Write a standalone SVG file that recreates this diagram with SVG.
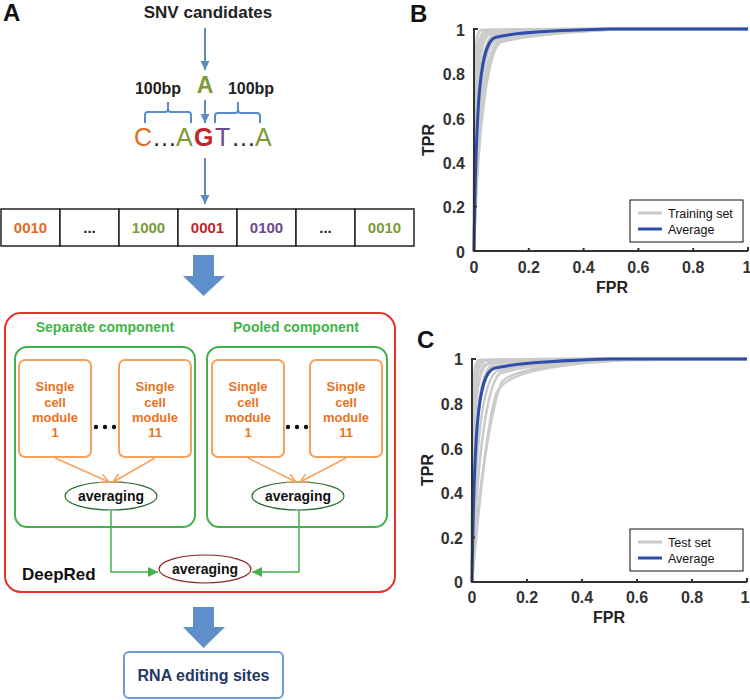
<svg xmlns="http://www.w3.org/2000/svg" width="750" height="700" viewBox="0 0 750 700">
<style>
text{font-family:"Liberation Sans",Arial,sans-serif}
.b{font-weight:bold}
.lbl{font-size:24px;font-weight:bold;fill:#111}
.or{fill:#e3691f}.gr{fill:#7b9a38}.rd{fill:#c0272d}.pu{fill:#6b4a8c}.bk{fill:#222}
.cell{fill:#fff;stroke:#222;stroke-width:1.5}
.num{font-size:15px;font-weight:bold;text-anchor:middle}
.mod{fill:#fff;stroke:#f5a25f;stroke-width:2}
.modt{font-size:13px;font-weight:bold;fill:#e8731e;text-anchor:middle}
.comp{fill:none;stroke:#45b04a;stroke-width:2}
.compt{font-size:14px;font-weight:bold;fill:#3fb549;text-anchor:middle}
.avg{font-size:14px;font-weight:bold;fill:#111;text-anchor:middle}
.thin{fill:none;stroke:#5b8bc7;stroke-width:2}
.big{fill:#5f8fca}
.oa{fill:none;stroke:#f5a25f;stroke-width:1.5}
.ga{fill:none;stroke:#45b04a;stroke-width:1.5}
.ax{stroke:#333;stroke-width:2;fill:none}
.tk{font-size:16px;font-weight:bold;fill:#333}
.axt{font-size:16px;font-weight:bold;fill:#222;text-anchor:middle}
.gray{fill:none;stroke:#cbcbcb;stroke-width:2.6;vector-effect:non-scaling-stroke;stroke-linejoin:round}
.blue{fill:none;stroke:#2f4eab;stroke-width:3;vector-effect:non-scaling-stroke;stroke-linejoin:round}
.leg{font-size:12.5px;fill:#111}
</style>
<defs>
<marker id="ab" viewBox="0 0 10 10" refX="10" refY="5" markerWidth="9" markerHeight="10" markerUnits="userSpaceOnUse" orient="auto"><path d="M0,0 L10,5 L0,10 z" fill="#5b8bc7"/></marker>
<marker id="ao" viewBox="0 0 10 10" refX="9" refY="5" markerWidth="10" markerHeight="10" markerUnits="userSpaceOnUse" orient="auto"><path d="M0,0.5 L9,5 L0,9.5" fill="none" stroke="#f5a25f" stroke-width="1.5"/></marker>
<marker id="ag" viewBox="0 0 10 10" refX="10" refY="5" markerWidth="10" markerHeight="10" markerUnits="userSpaceOnUse" orient="auto"><path d="M0,0 L10,5 L0,10 z" fill="#45b04a"/></marker>
</defs>

<!-- Panel A -->
<text class="lbl" x="3" y="21">A</text>
<g id="snv"><text class="b" x="208" y="18" font-size="17" text-anchor="middle" fill="#222">SNV candidates</text></g>
<g id="baseA"><text class="b gr" x="205" y="93" font-size="23" text-anchor="middle">A</text></g>
<g id="bp">
<text class="b" x="158" y="94" font-size="16" text-anchor="middle" fill="#222">100bp</text>
<text class="b" x="251" y="94" font-size="16" text-anchor="middle" fill="#222">100bp</text>
<path class="thin" d="M145,123 V115 Q145,112 148,112 H165 Q168,112 168,109 V102 M168,109 Q168,112 171,112 H188 Q191,112 191,115 V123"/>
<path class="thin" d="M215,123 V116 Q215,113 218,113 H235 Q238,113 238,110 V102 M238,110 Q238,113 241,113 H257 Q260,113 260,116 V123"/>
</g>
<g id="sequence">
<text font-size="25" y="146"><tspan class="or" x="134">C</tspan><tspan class="bk" x="152">…</tspan><tspan class="gr" x="176">A</tspan><tspan class="rd b" x="194">G</tspan><tspan class="pu" x="215">T</tspan><tspan class="bk" x="231">…</tspan><tspan class="gr" x="255">A</tspan></text>
</g>
<g id="encoding">
<rect class="cell" x="1" y="209" width="59" height="37"/>
<rect class="cell" x="60" y="209" width="59" height="37"/>
<rect class="cell" x="119" y="209" width="59" height="37"/>
<rect class="cell" x="178" y="209" width="59" height="37"/>
<rect class="cell" x="237" y="209" width="59" height="37"/>
<rect class="cell" x="296" y="209" width="59" height="37"/>
<rect class="cell" x="355" y="209" width="59" height="37"/>
<text class="num or" x="30.5" y="233">0010</text>
<text class="num bk" x="89.5" y="233">...</text>
<text class="num gr" x="148.5" y="233">1000</text>
<text class="num rd" x="207.5" y="233">0001</text>
<text class="num pu" x="266.5" y="233">0100</text>
<text class="num bk" x="325.5" y="233">...</text>
<text class="num gr" x="384.5" y="233">0010</text>
</g>

<g id="deepred">
<rect x="5" y="313" width="390" height="279" rx="16" fill="none" stroke="#e5312a" stroke-width="2"/>
<text class="b" x="22" y="580" font-size="17" fill="#111">DeepRed</text>
</g>
<g id="separate">
<rect class="comp" x="15" y="347" width="180" height="180" rx="12"/>
<text class="compt" x="105" y="332">Separate component</text>
</g>
<g id="pooled">
<rect class="comp" x="207" y="347" width="180" height="180" rx="12"/>
<text class="compt" x="296" y="332">Pooled component</text>
</g>
<g id="sep-m1"><rect class="mod" x="19" y="360" width="72" height="97" rx="6"/>
<text class="modt" x="55" y="391">Single</text><text class="modt" x="55" y="407">cell</text><text class="modt" x="55" y="422">module</text><text class="modt" x="55" y="437">1</text></g>
<g id="sep-m11"><rect class="mod" x="119" y="360" width="72" height="97" rx="6"/>
<text class="modt" x="155" y="391">Single</text><text class="modt" x="155" y="407">cell</text><text class="modt" x="155" y="422">module</text><text class="modt" x="155" y="437">11</text></g>
<g id="pool-m1"><rect class="mod" x="212" y="360" width="72" height="97" rx="6"/>
<text class="modt" x="248" y="391">Single</text><text class="modt" x="248" y="407">cell</text><text class="modt" x="248" y="422">module</text><text class="modt" x="248" y="437">1</text></g>
<g id="pool-m11"><rect class="mod" x="310" y="360" width="72" height="97" rx="6"/>
<text class="modt" x="346" y="391">Single</text><text class="modt" x="346" y="407">cell</text><text class="modt" x="346" y="422">module</text><text class="modt" x="346" y="437">11</text></g>
<g id="dots" fill="#111">
<circle cx="96" cy="427" r="2.2"/><circle cx="105" cy="427" r="2.2"/><circle cx="114" cy="427" r="2.2"/>
<circle cx="288" cy="427" r="2.2"/><circle cx="297" cy="427" r="2.2"/><circle cx="306" cy="427" r="2.2"/>
</g>
<g id="avg-sep"><ellipse cx="111" cy="496" rx="46" ry="14" fill="#fff" stroke="#2d6a31" stroke-width="1.2"/><text class="avg" x="111" y="501">averaging</text></g>
<g id="avg-pool"><ellipse cx="298" cy="496" rx="46" ry="14" fill="#fff" stroke="#2d6a31" stroke-width="1.2"/><text class="avg" x="298" y="501">averaging</text></g>
<g id="avg-all"><ellipse cx="205" cy="569" rx="46" ry="14" fill="#fff" stroke="#8b2323" stroke-width="1.2"/><text class="avg" x="205" y="574">averaging</text></g>
<g id="result"><rect x="124" y="652" width="159" height="46" rx="5" fill="#fff" stroke="#6d9bd3" stroke-width="2"/>
<text class="b" x="203.5" y="681" font-size="16" text-anchor="middle" fill="#1f3864">RNA editing sites</text></g>

<g id="connectors">
<line class="thin" x1="205" y1="28" x2="205" y2="70" marker-end="url(#ab)"/>
<line class="thin" x1="205" y1="100" x2="205" y2="123" marker-end="url(#ab)"/>
<line class="thin" x1="205" y1="158" x2="205" y2="204" marker-end="url(#ab)"/>
<path class="big" d="M193,255 H214 V276 H225 L203.5,296 L183,276 H193 Z"/>
<path class="big" d="M193,607 H214 V627 H225 L203.5,648 L183,627 H193 Z"/>
<line class="oa" x1="55" y1="458" x2="109" y2="482" marker-end="url(#ao)"/>
<line class="oa" x1="155" y1="458" x2="113" y2="482" marker-end="url(#ao)"/>
<line class="oa" x1="248" y1="458" x2="296" y2="482" marker-end="url(#ao)"/>
<line class="oa" x1="346" y1="458" x2="300" y2="482" marker-end="url(#ao)"/>
<path class="ga" d="M111,510 V572 H158" marker-end="url(#ag)"/>
<path class="ga" d="M299,510 V572 H252" marker-end="url(#ag)"/>
</g>

<!-- Panel B -->
<g id="panelB">
<text class="lbl" x="410" y="22">B</text>
<g transform="translate(474,251) scale(0.274,-0.222)">
<path class="gray" d="M0,0 C0,800 5,980 40,990 C100,998 200,1000 400,1000 L1000,1000"/>
<path class="gray" d="M0,0 C2,750 10,960 60,980 C150,992 300,1000 500,1000 L1000,1000"/>
<path class="gray" d="M0,0 C10,600 35,900 90,945 C150,965 250,985 450,1000 L1000,1000"/>
<path class="gray" d="M0,0 C13,520 45,885 95,940 C160,962 280,985 550,1000 L1000,1000"/>
<path class="gray" d="M0,0 C5,650 20,950 70,972 C140,988 280,998 500,1000 L1000,1000"/>
<path class="gray" d="M0,0 C0,900 3,990 25,995 C80,1000 150,1000 300,1000 L1000,1000"/>
<path class="gray" d="M0,0 C8,700 25,930 75,960 C130,975 250,990 500,1000 L1000,1000"/>
<path class="gray" d="M0,0 C12,550 40,880 85,940 C140,962 260,980 500,998 L1000,1000"/>
<path class="gray" d="M0,0 C4,700 12,940 45,975 C100,990 220,998 450,1000 L1000,1000"/>
<path class="gray" d="M0,0 C1,820 7,975 50,985 C120,995 250,1000 450,1000 L1000,1000"/>
<path class="gray" d="M0,0 C6,620 28,920 80,950 C140,970 260,990 480,1000 L1000,1000"/>
<path class="gray" d="M0,0 C3,720 15,955 55,978 C120,990 240,998 460,1000 L1000,1000"/>
<path class="blue" d="M0,0 C8,700 22,945 80,963 C150,985 300,995 500,1000 L1000,1000"/>
</g>
<path class="ax" d="M478,29 H474 V251 H748"/>
<path class="ax" d="M528.8,251 v-3 M583.6,251 v-3 M638.4,251 v-3 M693.2,251 v-3 M748,251 v-4 M474,206.6 h3"/>
<g class="tk" text-anchor="end">
<text x="465" y="36">1</text><text x="465" y="80">0.8</text><text x="465" y="124.5">0.6</text><text x="465" y="169">0.4</text><text x="465" y="213">0.2</text><text x="465" y="258">0</text>
</g>
<g class="tk" text-anchor="middle">
<text x="474" y="273">0</text><text x="528.8" y="273">0.2</text><text x="583.6" y="273">0.4</text><text x="638.4" y="273">0.6</text><text x="693.2" y="273">0.8</text><text x="747" y="273">1</text>
</g>
<text class="axt" x="612" y="293">FPR</text>
<text class="axt" transform="translate(434,140) rotate(-90)">TPR</text>
<rect x="630" y="200" width="113" height="42" fill="#fff" stroke="#111" stroke-width="1"/>
<line x1="638" y1="213" x2="662" y2="213" stroke="#c9c9c9" stroke-width="3"/>
<line x1="638" y1="229" x2="662" y2="229" stroke="#2f4eab" stroke-width="3"/>
<text class="leg" x="668" y="218">Training set</text>
<text class="leg" x="668" y="234">Average</text>
</g>

<!-- Panel C -->
<g id="panelC">
<text class="lbl" x="417" y="348">C</text>
<g transform="translate(472,582) scale(0.275,-0.223)">
<path class="gray" d="M0,0 C0,800 5,980 40,990 C100,998 200,1000 400,1000 L1000,1000"/>
<path class="gray" d="M0,0 C2,750 10,960 60,980 C150,992 300,1000 500,1000 L1000,1000"/>
<path class="gray" d="M0,0 C10,600 35,900 90,945 C150,965 250,985 450,1000 L1000,1000"/>
<path class="gray" d="M0,0 C15,500 50,880 100,935 C160,960 280,985 550,1000 L1000,1000"/>
<path class="gray" d="M0,0 C0,900 3,990 25,995 C80,1000 150,1000 300,1000 L1000,1000"/>
<path class="gray" d="M0,0 C1,850 6,985 50,993 C120,999 200,1000 350,1000 L1000,1000"/>
<path class="gray" d="M0,0 C8,700 25,930 75,960 C130,975 250,990 500,1000 L1000,1000"/>
<path class="gray" d="M0,0 C20,400 70,800 110,900 C150,950 300,985 600,1000 L1000,1000"/>
<path class="gray" d="M0,0 C25,350 60,750 90,850 C120,930 250,975 550,995 L1000,1000"/>
<path class="gray" d="M0,0 C4,700 12,940 45,975 C100,990 220,998 450,1000 L1000,1000"/>
<path class="gray" d="M0,0 C1,880 4,985 35,992 C90,999 180,1000 330,1000 L1000,1000"/>
<path class="gray" d="M0,0 C6,650 20,920 65,965 C130,982 260,995 480,1000 L1000,1000"/>
<path class="blue" d="M0,0 C8,700 22,935 80,958 C150,980 300,993 500,1000 L1000,1000"/>
</g>
<path class="ax" d="M476,359 H472 V582 H747"/>
<path class="ax" d="M527,582 v-3 M582,582 v-3 M637,582 v-3 M692,582 v-3 M747,582 v-4 M472,537.4 h3"/>
<g class="tk" text-anchor="end">
<text x="463" y="365">1</text><text x="463" y="410">0.8</text><text x="463" y="454.5">0.6</text><text x="463" y="499">0.4</text><text x="463" y="543.5">0.2</text><text x="463" y="588">0</text>
</g>
<g class="tk" text-anchor="middle">
<text x="472" y="603">0</text><text x="527" y="603">0.2</text><text x="582" y="603">0.4</text><text x="637" y="603">0.6</text><text x="692" y="603">0.8</text><text x="745" y="603">1</text>
</g>
<text class="axt" x="609" y="623">FPR</text>
<text class="axt" transform="translate(433,470) rotate(-90)">TPR</text>
<rect x="630" y="529" width="113" height="42" fill="#fff" stroke="#111" stroke-width="1"/>
<line x1="638" y1="542" x2="662" y2="542" stroke="#c9c9c9" stroke-width="3"/>
<line x1="638" y1="558" x2="662" y2="558" stroke="#2f4eab" stroke-width="3"/>
<text class="leg" x="668" y="547">Test set</text>
<text class="leg" x="668" y="563">Average</text>
</g>
</svg>
